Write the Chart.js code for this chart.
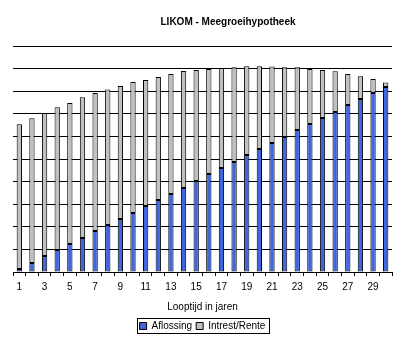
<!DOCTYPE html>
<html>
<head>
<meta charset="utf-8">
<script src="https://cdn.jsdelivr.net/npm/chart.js@4/dist/chart.umd.min.js"></script>
<style>
  html, body { margin: 0; padding: 0; background: #fff; }
  #wrap { width: 408px; height: 351px; }
</style>
</head>
<body>
<div id="wrap"><canvas id="likomChart" width="408" height="351"></canvas></div>
<script>
// Looptijd (jaren)
var years = [];
for (var i = 1; i <= 30; i++) years.push(String(i));

// Aflossing per jaar (blauw)
var aflossing = [0.13, 0.40, 0.71, 0.97, 1.24, 1.50, 1.81, 2.08, 2.35, 2.61,
                 2.92, 3.19, 3.45, 3.72, 4.03, 4.34, 4.60, 4.87, 5.18, 5.44,
                 5.71, 5.97, 6.28, 6.55, 6.81, 7.08, 7.39, 7.65, 7.92, 8.19];

// Intrest/Rente per jaar (grijs)
var rente = [6.41, 6.40, 6.33, 6.32, 6.24, 6.23, 6.11, 6.00, 5.88, 5.80,
             5.58, 5.44, 5.31, 5.17, 4.91, 4.64, 4.43, 4.19, 3.92, 3.66,
             3.38, 3.09, 2.78, 2.43, 2.13, 1.80, 1.37, 1.01, 0.62, 0.20];

var chartTitle = 'LIKOM - Meegroeihypotheek';

Chart.defaults.font.family = 'Arial, "Liberation Sans", sans-serif';
Chart.defaults.color = '#000';

// Titel (staat in het origineel iets rechts van het midden)
var titlePlugin = {
  id: 'excelTitle',
  afterDraw: function (chart) {
    var c = chart.ctx;
    c.save();
    c.font = 'bold 10px Arial, "Liberation Sans", sans-serif';
    c.fillStyle = '#000';
    c.textAlign = 'center';
    c.textBaseline = 'middle';
    c.fillText(chartTitle, 228, 22);
    c.restore();
  }
};

// Kader rond de legenda
var legendBox = {
  id: 'legendBox',
  afterDraw: function (chart) {
    var boxes = chart.legend && chart.legend.legendHitBoxes;
    if (!boxes || !boxes.length) return;
    var l = Infinity, r = -Infinity, t = Infinity, b = -Infinity;
    boxes.forEach(function (h) {
      l = Math.min(l, h.left); r = Math.max(r, h.left + h.width);
      t = Math.min(t, h.top); b = Math.max(b, h.top + h.height);
    });
    var c = chart.ctx;
    c.save();
    c.strokeStyle = '#000';
    c.lineWidth = 1;
    c.strokeRect(Math.round(l - 3) + 0.5, Math.round(t - 3) + 0.5,
                 Math.round(r - l + 6), Math.round(b - t + 5));
    c.restore();
  }
};

var ctx = document.getElementById('likomChart').getContext('2d');
new Chart(ctx, {
  type: 'bar',
  data: {
    labels: years,
    datasets: [
      {
        label: 'Aflossing',
        data: aflossing,
        backgroundColor: '#3f66df',
        borderColor: '#000',
        borderWidth: 1,
        borderSkipped: false
      },
      {
        label: 'Intrest/Rente',
        data: rente,
        backgroundColor: '#c0c0c0',
        borderColor: '#000',
        borderWidth: 1,
        borderSkipped: false
      }
    ]
  },
  plugins: [titlePlugin, legendBox],
  options: {
    responsive: false,
    animation: false,
    datasets: {
      bar: { categoryPercentage: 1.0, barPercentage: 0.42 }
    },
    layout: {
      padding: { top: 46, left: 13, right: 16, bottom: 10 }
    },
    plugins: {
      title: { display: false },
      tooltip: { enabled: false },
      legend: {
        display: true,
        position: 'bottom',
        labels: {
          boxWidth: 7,
          boxHeight: 7,
          padding: 4,
          font: { size: 10 }
        }
      }
    },
    scales: {
      x: {
        stacked: true,
        offset: true,
        grid: {
          offset: true,
          drawOnChartArea: false,
          drawTicks: true,
          tickLength: 4,
          color: '#000'
        },
        border: { display: true, color: '#000' },
        ticks: {
          autoSkip: false,
          maxRotation: 0,
          padding: 5,
          font: { size: 10 },
          callback: function (value, index) {
            return index % 2 === 0 ? this.getLabelForValue(value) : '';
          }
        },
        title: {
          display: true,
          text: 'Looptijd in jaren',
          font: { size: 10 },
          padding: { top: 3, bottom: 4 }
        }
      },
      y: {
        stacked: true,
        min: 0,
        max: 10,
        ticks: { display: false, stepSize: 1 },
        grid: { color: '#000', drawTicks: false },
        border: { display: false }
      }
    }
  }
});
</script>
</body>
</html>
